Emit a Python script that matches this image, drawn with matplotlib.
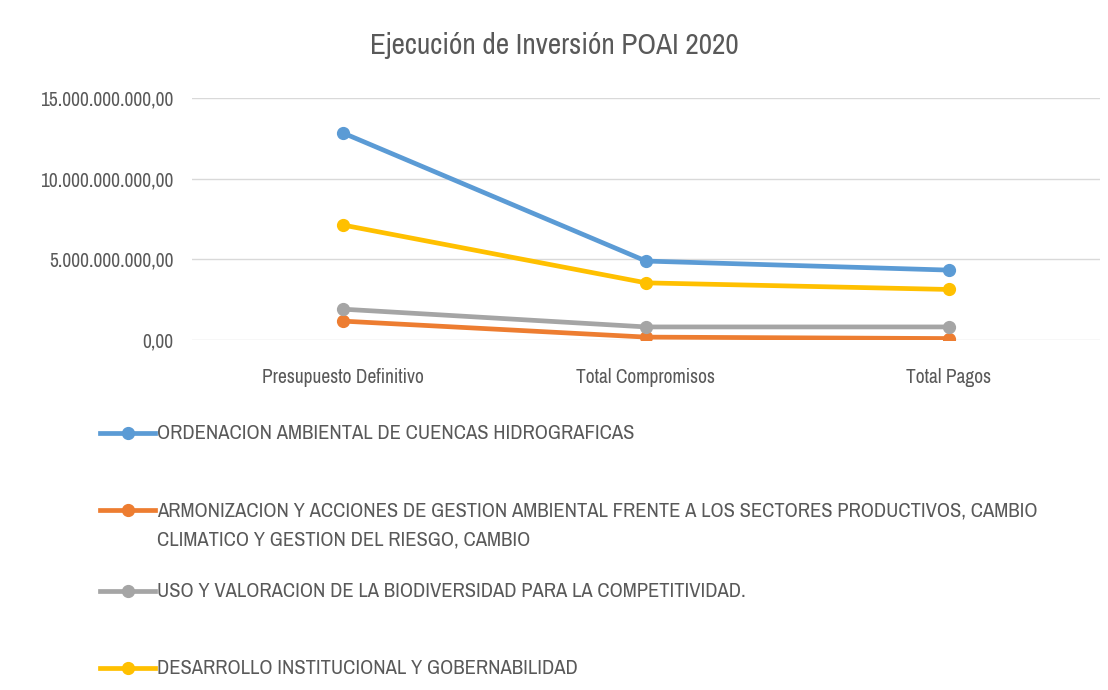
import matplotlib
matplotlib.use("Agg")
import matplotlib.pyplot as plt
from matplotlib import font_manager as fm
from matplotlib.lines import Line2D
from matplotlib.ticker import FuncFormatter, MultipleLocator

categories = ["Presupuesto Definitivo", "Total Compromisos", "Total Pagos"]
series_names = [
    "ORDENACION AMBIENTAL DE CUENCAS HIDROGRAFICAS",
    "ARMONIZACION Y ACCIONES DE GESTION AMBIENTAL FRENTE A LOS SECTORES PRODUCTIVOS, CAMBIO\nCLIMATICO Y GESTION DEL RIESGO, CAMBIO",
    "USO Y VALORACION DE LA BIODIVERSIDAD PARA LA COMPETITIVIDAD.",
    "DESARROLLO INSTITUCIONAL Y GOBERNABILIDAD",
]
ordenacion = [12.83e9, 4.90e9, 4.34e9]
armonizacion = [1.18e9, 0.19e9, 0.10e9]
uso = [1.92e9, 0.82e9, 0.82e9]
desarrollo = [7.13e9, 3.55e9, 3.14e9]
series_values = [ordenacion, armonizacion, uso, desarrollo]
colors = ["#5B9BD5", "#ED7D31", "#A5A5A5", "#FFC000"]

# look for any narrow / condensed face, the original uses a condensed font
stretch = "normal"
family = "DejaVu Sans"
for f in fm.fontManager.ttflist:
    if "Narrow" in f.name or "Condensed" in f.name:
        family = f.name
        break
    if f.stretch in ("condensed", "semi-condensed") and f.style == "normal":
        family, stretch = f.name, f.stretch
plt.rcParams["font.family"] = [family, "DejaVu Sans"]
plt.rcParams["font.stretch"] = stretch
TXT = "#595959"


def fmt(v, pos):
    s = f"{v:,.2f}"
    return s.replace(",", "X").replace(".", ",").replace("X", ".")


fig = plt.figure(figsize=(11.08, 6.9), dpi=100)
ax = fig.add_axes([0.173, 0.507, 0.82, 0.351])

x = list(range(len(categories)))
for vals, c in zip(series_values, colors):
    ax.plot(x, vals, color=c, lw=3.4, marker="o", ms=8.5, solid_capstyle="round")

ax.set_xlim(-0.5, 2.5)
ax.set_ylim(0, 15e9)
ax.yaxis.set_major_locator(MultipleLocator(5e9))
ax.yaxis.set_major_formatter(FuncFormatter(fmt))
ax.set_xticks(x)
ax.set_xticklabels(categories)
ax.tick_params(axis="both", length=0, labelsize=14, labelcolor=TXT)
ax.tick_params(axis="x", pad=20)
ax.tick_params(axis="y", pad=13)
ax.grid(axis="y", color="#D9D9D9", lw=1)
ax.set_axisbelow(True)
for s in ax.spines.values():
    s.set_visible(False)

title = fig.text(0.5, 0.934, "Ejecución de Inversión POAI 2020", ha="center", va="center",
                 fontsize=22, color=TXT)

# legend below the plot
rows = [433, 510, 591, 668]
leg_texts = []
for name, c, ry in zip(series_names, colors, rows):
    yf = 1 - ry / 690
    fig.add_artist(Line2D([100 / 1108, 155 / 1108], [yf, yf], transform=fig.transFigure,
                          color=c, lw=3.4))
    fig.add_artist(Line2D([128 / 1108], [yf], transform=fig.transFigure,
                          color=c, marker="o", ms=8.5, lw=0))
    t = fig.text(157 / 1108, yf + 0.0125, name, ha="left", va="top", fontsize=15,
                 color=TXT, linespacing=1.65)
    leg_texts.append(t)

# shrink texts so their widths match the condensed original
renderer = fig.canvas.get_renderer()


def fit(texts, width_px, max_size):
    for t in texts:
        t.set_fontsize(max_size)
    w = max(t.get_window_extent(renderer).width for t in texts)
    if w > width_px:
        size = max_size * width_px / w
        for t in texts:
            t.set_fontsize(size)
        return size
    return max_size


fit([title], 370, 22)
fit([leg_texts[1]], 880, 15)
for t in leg_texts:
    t.set_fontsize(leg_texts[1].get_fontsize())
ysize = fit(ax.get_yticklabels(), 156, 14)
xsize = fit([ax.get_xticklabels()[0]], 200, 14)
ax.tick_params(axis="x", labelsize=min(xsize, 14))
ax.tick_params(axis="y", labelsize=ysize)

fig.savefig("out.png", dpi=100)
